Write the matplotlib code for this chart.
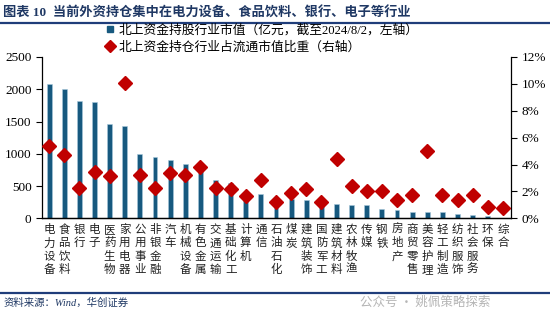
import matplotlib
matplotlib.use('Agg')
import matplotlib.pyplot as plt
from matplotlib.lines import Line2D
import numpy as np

categories = ['电力设备', '食品饮料', '银行', '电子', '医药生物', '家用电器', '公用事业',
              '非银金融', '汽车', '机械设备', '有色金属', '交通运输', '基础化工', '计算机',
              '通信', '石油石化', '煤炭', '建筑装饰', '国防军工', '建筑材料', '农林牧渔',
              '传媒', '钢铁', '房地产', '商贸零售', '美容护理', '轻工制造', '纺织服饰',
              '社会服务', '环保', '综合']
market_value = [2075, 2000, 1822, 1797, 1455, 1425, 992, 951, 898, 848, 790, 590, 547, 400,
                376, 328, 294, 283, 255, 217, 202, 200, 140, 124, 103, 103, 98, 62, 52, 42, 5]
share_pct = [5.41, 4.69, 2.28, 3.47, 3.15, 10.07, 3.20, 2.28, 3.40, 3.23, 3.83, 2.25, 2.19,
             1.68, 2.85, 1.19, 1.90, 2.16, 1.24, 4.39, 2.38, 2.06, 2.03, 1.39, 1.70, 5.04,
             1.70, 1.36, 1.71, 0.87, 0.74]
left_ticks = [0, 500, 1000, 1500, 2000, 2500]
right_ticks = [0, 2, 4, 6, 8, 10, 12]
legend_labels = ['北上资金持股行业市值（亿元，截至2024/8/2，左轴）',
                 '北上资金持仓行业占流通市值比重（右轴）']
title_text = '图表 10  当前外资持仓集中在电力设备、食品饮料、银行、电子等行业'
source_text = '资料来源：Wind，华创证券'
watermark_text = '公众号 · 姚佩策略探索'

plt.rcParams['font.family'] = ['Liberation Serif', 'Noto Sans CJK SC', 'DejaVu Sans']

BAR = '#17597F'
RED = '#C00000'
NAVY = '#1F3864'

fig = plt.figure(figsize=(5.5, 3.22), dpi=100)
ax = fig.add_axes([0.0764, 0.322, 0.929 - 0.0764, 0.823 - 0.322])
x = np.arange(len(categories))
ax.bar(x, market_value, width=0.32, color=BAR, edgecolor='#A8C8DC', linewidth=0.4, zorder=2)
ax.set_ylim(0, 2500)
ax.set_yticks(left_ticks)
ax.set_xlim(-0.47, len(categories) - 0.47)
ax.set_xticks(x)
ax.set_xticklabels(['\n'.join(c) for c in categories], fontsize=8.3, linespacing=1.02,
                   family=['Noto Sans CJK SC'], color='#222222')
ax.tick_params(axis='x', length=0, pad=3.5)
ax.tick_params(axis='y', direction='out', length=4, labelsize=9.5, width=0.8)

ax2 = ax.twinx()
ax2.plot(x, share_pct, linestyle='none', marker='D', markersize=7, color=RED, zorder=3)
ax2.set_ylim(0, 12)
ax2.set_yticks(right_ticks)
ax2.set_yticklabels([f'{v}%' for v in right_ticks])
ax2.tick_params(axis='y', direction='out', length=4, labelsize=9.5, width=0.8)

for a in (ax, ax2):
    a.spines['top'].set_visible(False)
    for s in ('left', 'right', 'bottom'):
        a.spines[s].set_linewidth(0.9)
ax.spines['right'].set_visible(False)
ax2.spines['left'].set_visible(False)

handles = [Line2D([], [], linestyle='none', marker='s', markersize=4.5, color=BAR),
           Line2D([], [], linestyle='none', marker='D', markersize=6, color=RED)]
fig.legend(handles, legend_labels, loc='upper left', bbox_to_anchor=(0.19, 1 - 24 / 322),
           frameon=False, fontsize=9.2, handlelength=0.8, handletextpad=0.3,
           labelspacing=0.4, borderaxespad=0, borderpad=0)

fig.text(0.005, 1 - 12 / 322, title_text, fontsize=9.5, weight='bold', color=NAVY,
         va='center', ha='left')
fig.add_artist(Line2D([0, 1], [1 - 23.3 / 322] * 2, color='#1F3D7A', lw=1.6))
fig.add_artist(Line2D([0, 1], [1 - 292.7 / 322] * 2, color='#1F3D7A', lw=1.6))
fig.text(0.006, 1 - 303 / 322, source_text, fontsize=7.5, style='italic', color=NAVY,
         va='center', ha='left')
fig.text(0.655, 1 - 302 / 322, watermark_text, fontsize=9, color='#B5B5B5',
         va='center', ha='left', family=['Noto Sans CJK SC'])

fig.savefig('out.png', dpi=100)
